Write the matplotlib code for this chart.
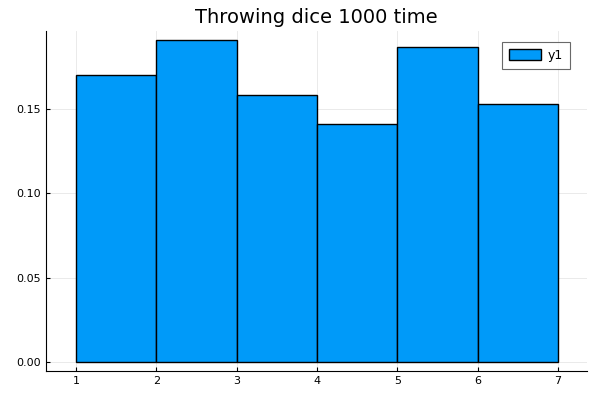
import numpy as np
import matplotlib
matplotlib.use("Agg")
import matplotlib.pyplot as plt

# face values and relative frequencies
edges = [1, 2, 3, 4, 5, 6, 7]
freq = [0.170, 0.191, 0.158, 0.141, 0.187, 0.153]

fig = plt.figure(figsize=(6, 4), dpi=100)
ax = fig.add_axes([0.0767, 0.0725, 0.9013, 0.85])

ax.bar(edges[:-1], freq, width=1, align="edge", color="#009af9",
       edgecolor="black", linewidth=1, label="y1", zorder=3)

ax.set_xlim(0.627, 7.36)
ax.set_ylim(-0.0053, 0.1962)
ax.set_xticks(edges)
ax.set_yticks([0.0, 0.05, 0.10, 0.15])
ax.set_yticklabels(["0.00", "0.05", "0.10", "0.15"])
ax.tick_params(labelsize=8, direction="in", length=3, width=0.8)
ax.grid(True, color="#e6e6e6", linewidth=0.6, zorder=0)
for s in ["top", "right"]:
    ax.spines[s].set_visible(False)
ax.set_title("Throwing dice 1000 time", fontsize=14)

leg = ax.legend(loc="upper right", bbox_to_anchor=(0.9686, 0.9676),
                borderaxespad=0, fontsize=9, fancybox=False,
                edgecolor="#444444", handlelength=2.6, handleheight=0.9,
                borderpad=0.55, handletextpad=0.5)
leg.get_frame().set_linewidth(0.8)

plt.savefig("out.png", dpi=100)
